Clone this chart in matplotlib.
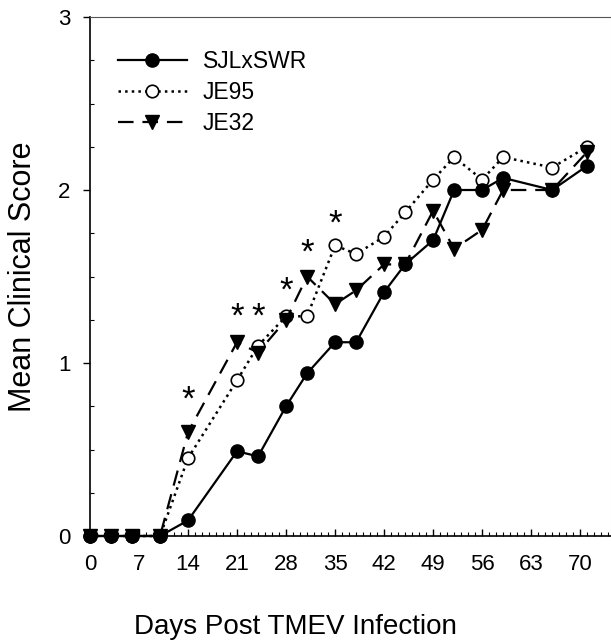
"""
Mean clinical score vs days post TMEV infection for three mouse strains.
"""
import matplotlib.pyplot as plt
from matplotlib.ticker import MultipleLocator

plt.rcParams['font.family'] = ['Liberation Sans', 'DejaVu Sans']

days = [0, 3, 6, 10, 14, 21, 24, 28, 31, 35, 38, 42, 45, 49, 52, 56, 59, 66, 71]

sjl_swr = [0, 0, 0, 0, 0.09, 0.49, 0.46, 0.75, 0.94, 1.12, 1.12, 1.41, 1.57,
           1.71, 2.00, 2.00, 2.07, 2.00, 2.14]
je95 = [0, 0, 0, 0, 0.45, 0.90, 1.10, 1.27, 1.27, 1.68, 1.63, 1.73, 1.87,
        2.06, 2.19, 2.06, 2.19, 2.13, 2.25]
je32 = [0, 0, 0, 0, 0.60, 1.12, 1.06, 1.25, 1.50, 1.34, 1.42, 1.57, 1.57,
        1.88, 1.66, 1.77, 2.00, 2.00, 2.22]

# significance stars (day, height)
star_days = [14, 21, 24, 28, 31, 35]
star_heights = [0.83, 1.31, 1.31, 1.46, 1.68, 1.85]

x_ticks = [0, 7, 14, 21, 28, 35, 42, 49, 56, 63, 70]
y_ticks = [0, 1, 2, 3]


def plot_scores(file_name='out.png'):
    fig = plt.figure(figsize=(6.11, 6.40), dpi=100)
    ax = fig.add_axes([90 / 611, 1 - 536 / 640, 1 - 90 / 611, (536 - 17) / 640])

    ax.plot(days, sjl_swr, '-', color='black', lw=1.6, marker='o', markersize=9.5,
            markerfacecolor='black', label='SJLxSWR', clip_on=False, zorder=4)
    ax.plot(days, je95, ':', color='black', lw=1.8, marker='o', markersize=9,
            markerfacecolor='white', markeredgewidth=1.2, label='JE95', clip_on=False, zorder=3)
    ax.plot(days, je32, color='black', lw=1.6, dashes=(7, 4), marker='v', markersize=9.5,
            markerfacecolor='black', label='JE32', clip_on=False, zorder=3)

    # the '*' glyph sits high in its box, so nudge it down a little
    for d, h in zip(star_days, star_heights):
        ax.text(d, h - 0.045, '*', fontsize=25, ha='center', va='center')

    ax.set_xlim(0, 74.4)
    ax.set_ylim(0, 3)
    ax.set_xticks(x_ticks)
    ax.set_yticks(y_ticks)
    ax.xaxis.set_minor_locator(MultipleLocator(1))
    ax.yaxis.set_minor_locator(MultipleLocator(0.25))
    ax.tick_params(axis='x', which='major', direction='in', length=5, width=1, labelsize=16, pad=13)
    ax.tick_params(axis='x', which='minor', direction='in', length=3, width=0.8)
    ax.tick_params(axis='y', which='major', direction='out', length=5, width=1, labelsize=16, pad=9)
    ax.tick_params(axis='y', which='minor', direction='in', length=3, width=0.8)

    for side in ['left', 'bottom']:
        ax.spines[side].set_linewidth(1.2)
    ax.spines['top'].set_color('#555555')
    ax.spines['right'].set_color('#dddddd')

    ax.set_xlabel('Days Post TMEV Infection', fontsize=20, va='center')
    ax.xaxis.set_label_coords(0.395, -0.175)
    ax.set_ylabel('Mean Clinical Score', fontsize=22, va='center')
    ax.yaxis.set_label_coords(-0.128, 0.5)

    ax.legend(loc='upper left', bbox_to_anchor=(28 / 521, 0.936), frameon=False, fontsize=16.5,
              handlelength=3.0, handletextpad=0.7, labelspacing=0.35,
              borderpad=0, borderaxespad=0)

    plt.savefig(file_name, dpi=100, facecolor='w')


if __name__ == "__main__":
    plot_scores()
